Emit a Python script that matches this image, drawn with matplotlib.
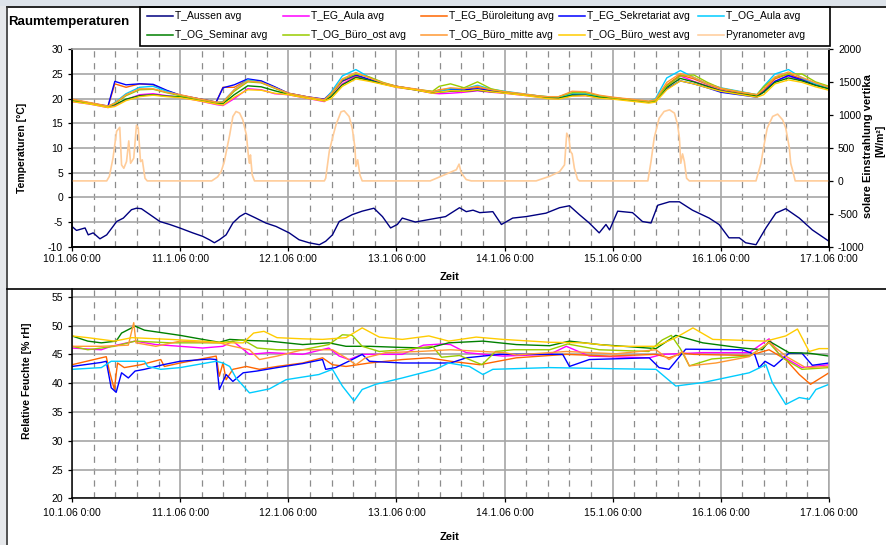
import matplotlib.pyplot as plt
from matplotlib.lines import Line2D
from matplotlib.patches import Rectangle

plt.rcParams['font.family'] = ['Liberation Sans', 'DejaVu Sans']
plt.rcParams['axes.unicode_minus'] = False

# --- data (hours since 10.1.06 0:00) ---
day_hours = [0, 24, 48, 72, 96, 120, 144, 168]
day_labels = ['10.1.06 0:00', '11.1.06 0:00', '12.1.06 0:00', '13.1.06 0:00',
              '14.1.06 0:00', '15.1.06 0:00', '16.1.06 0:00', '17.1.06 0:00']

# outside temperature
t_aussen_h = [0, 1, 2.9, 3.6, 4.7, 6.2, 7.7, 9.1, 9.9, 11.4, 13.2, 14.3, 15.4, 17.3, 19.5, 21.7, 23.9,
              26.8, 29.0, 30.5, 31.6, 32.7, 34.2, 35.7, 37.2, 38.5, 40.8, 43, 45.3, 48.2, 50.4, 52.6,
              54.9, 56.3, 57.8, 59.3, 62.2, 64.4, 67, 68.9, 70.7, 72.2, 73.3, 76.2, 79.2, 82.9, 86,
              87.5, 89, 90.5, 93.4, 95.3, 97.8, 100.8, 105.2, 108.2, 110.4, 112.6, 114.8, 117, 118.5,
              119.3, 121.1, 124.4, 126.6, 128.5, 130, 132.6, 134.8, 137.7, 141.4, 143.6, 145.8, 148.1,
              149.5, 151.8, 154, 156.2, 158.4, 161.4, 164.3, 168]
t_aussen = [-5.9, -6.7, -6.2, -7.6, -7.2, -8.4, -7.6, -5.9, -4.9, -4.2, -2.5, -2.2, -2.3, -3.5, -4.9,
            -5.5, -6.2, -7.2, -7.9, -8.6, -9.2, -8.6, -7.6, -5.2, -3.9, -3.2, -4.2, -5.2, -5.9, -7.2,
            -8.6, -9.2, -9.6, -8.9, -7.6, -4.9, -3.5, -2.8, -2.2, -3.9, -6.2, -5.5, -4.2, -5.0, -4.5,
            -3.9, -2.1, -2.9, -2.6, -3.1, -2.9, -5.5, -4.2, -3.9, -3.2, -2.1, -1.7, -3.5, -5.2, -7.2,
            -5.5, -6.6, -2.8, -3.1, -4.9, -5.2, -1.6, -0.9, -0.9, -2.6, -4.2, -5.5, -8.2, -8.2, -9.2,
            -9.6, -6.2, -3.2, -2.3, -4.2, -6.6, -8.9]

# pyranometer [W/m2]
pyr_h = [0, 7.7, 8.3, 9.1, 9.9, 10.6, 11.0, 11.5, 12.1, 12.6, 13.0, 13.7, 14.3, 14.7, 15.2, 15.6, 16.2, 16.7,
         31.0, 32.3, 33.1, 33.8, 35.0, 35.7, 36.4, 37.2, 37.9, 38.7, 39.2, 39.4, 39.6, 40.0, 40.5,
         56.0, 56.3, 57.1, 57.8, 58.6, 59.7, 60.4, 61.5, 62.2, 62.8, 63.0, 63.4, 63.9, 64.4,
         79.5, 83.1, 85.3, 85.9, 86.4, 87.5, 88.6,
         103.0, 106.0, 108.2, 109.3, 109.8, 110.3, 110.6, 111.0, 111.5, 112.2, 112.6,
         127.8, 128.5, 129.2, 130.3, 131.4, 132.6, 133.7, 134.4, 134.8, 135.1, 135.5, 135.9, 136.4, 137.0,
         151.8, 152.9, 153.6, 154.3, 155.5, 156.6, 157.7, 158.4, 159.2, 159.5, 159.9, 160.5, 168]
pyr = [0, 0, 70, 348, 754, 815, 243, 192, 294, 608, 268, 345, 846, 805, 294, 320, 40, 0,
       0, 60, 140, 294, 700, 979, 1055, 1030, 928, 700, 345, 268, 395, 90, 0,
       0, 40, 450, 650, 856, 1050, 1065, 979, 800, 500, 220, 320, 90, 0,
       0, 105, 170, 255, 120, 20, 0,
       0, 70, 140, 243, 725, 650, 450, 410, 190, 25, 0,
       0, 294, 650, 953, 1055, 1080, 1030, 856, 650, 268, 410, 294, 40, 0,
       0, 268, 550, 805, 980, 1015, 928, 805, 500, 268, 168, 0, 0]

# indoor temperatures, common time grid
t_in_h = [0, 4, 8, 9.5, 12, 15, 18, 21, 24, 28, 32, 33.5, 36, 39, 42, 45,
          48, 52, 56, 57.5, 60, 63, 66, 69, 72, 76, 80, 81.5, 84, 87, 90, 93,
          96, 100, 104, 105.5, 108, 111, 114, 117, 120, 124, 128, 129.5, 132, 135, 138, 141,
          144, 148, 152, 153.5, 156, 159, 162, 165, 168]
t_eg_aula = [19.4, 18.9, 18.2, 18.6, 19.8, 20.8, 21.0, 20.6, 20.3, 19.6, 18.8, 18.6, 20.0, 22.0, 21.8, 21.0,
             20.8, 20.1, 19.4, 20.5, 23.0, 24.5, 23.6, 23.0, 22.3, 21.8, 21.1, 21.0, 21.1, 21.3, 21.6, 21.3,
             21.1, 20.7, 20.3, 20.1, 20.0, 20.6, 20.6, 20.2, 20.0, 19.7, 19.3, 19.5, 22.5, 24.6, 23.5, 22.6,
             21.7, 21.1, 20.4, 21.5, 23.5, 24.6, 23.6, 22.7, 22.1]
t_eg_bueroleitung = [19.8, 19.1, 18.4, 23.0, 22.3, 23.0, 22.8, 21.6, 20.7, 20.0, 19.3, 22.3, 22.3, 23.8, 23.5, 22.3,
                     21.1, 20.4, 19.8, 21.0, 23.5, 24.7, 23.8, 23.1, 22.5, 21.9, 21.4, 21.8, 22.0, 21.9, 22.3, 21.7,
                     21.4, 20.9, 20.5, 20.3, 20.3, 21.1, 21.0, 20.5, 20.2, 19.8, 19.4, 19.7, 22.8, 24.8, 24.0, 22.9,
                     22.0, 21.3, 20.6, 21.8, 24.0, 25.0, 24.0, 23.0, 22.2]
t_eg_sekretariat = [19.8, 19.1, 18.5, 23.5, 22.8, 23.0, 22.9, 21.7, 20.7, 20.0, 19.3, 22.2, 22.8, 24.0, 23.6, 22.4,
                    21.1, 20.4, 19.9, 21.2, 23.6, 24.8, 23.9, 23.1, 22.5, 21.9, 21.3, 21.6, 21.9, 21.8, 22.0, 21.6,
                    21.3, 20.9, 20.4, 20.3, 20.2, 20.8, 20.7, 20.3, 20.0, 19.7, 19.3, 19.5, 22.0, 23.6, 23.0, 22.2,
                    21.3, 20.8, 20.3, 21.4, 23.5, 24.7, 23.8, 22.8, 22.0]
t_og_aula = [19.6, 19.0, 18.3, 19.2, 21.0, 22.3, 22.5, 21.5, 20.6, 19.9, 19.2, 19.4, 21.8, 23.8, 23.3, 22.2,
             21.0, 20.3, 19.7, 21.3, 24.6, 25.9, 24.3, 23.2, 22.4, 21.9, 21.3, 21.5, 22.0, 22.0, 22.7, 21.9,
             21.5, 21.0, 20.5, 20.4, 20.3, 21.0, 21.0, 20.5, 20.2, 19.8, 19.4, 20.0, 24.2, 25.7, 24.3, 23.0,
             22.2, 21.5, 20.8, 22.5, 25.0, 25.9, 24.2, 23.0, 22.2]
t_og_seminar = [19.6, 19.0, 18.4, 18.8, 19.9, 20.6, 20.8, 20.5, 20.4, 19.8, 19.1, 19.0, 20.8, 22.6, 22.4, 21.6,
                20.9, 20.2, 19.6, 20.4, 22.8, 24.3, 23.7, 23.0, 22.4, 21.8, 21.2, 21.3, 21.5, 21.5, 21.7, 21.4,
                21.2, 20.8, 20.4, 20.2, 20.1, 20.7, 20.7, 20.3, 20.1, 19.7, 19.3, 19.5, 22.3, 24.1, 23.4, 22.5,
                21.6, 21.0, 20.5, 21.3, 23.3, 24.2, 23.6, 22.7, 22.0]
t_og_buero_ost = [19.8, 19.1, 18.4, 19.0, 20.6, 21.8, 21.9, 21.2, 20.6, 19.9, 19.2, 19.2, 21.5, 23.4, 23.2, 22.1,
                  21.0, 20.3, 19.7, 20.8, 23.8, 25.0, 24.4, 23.3, 22.5, 21.9, 21.5, 22.5, 23.0, 22.2, 23.4, 22.0,
                  21.4, 20.9, 20.5, 20.4, 20.4, 21.2, 21.2, 20.6, 20.2, 19.8, 19.4, 19.6, 22.6, 24.6, 24.8, 23.3,
                  22.1, 21.4, 20.8, 22.4, 24.3, 25.0, 25.0, 23.4, 22.5]
t_og_buero_mitte = [19.9, 19.2, 18.5, 19.1, 20.8, 22.0, 22.0, 21.3, 20.8, 20.0, 19.3, 19.3, 21.8, 23.6, 23.3, 22.2,
                    21.1, 20.4, 19.8, 21.0, 24.0, 25.3, 24.2, 23.2, 22.5, 22.0, 21.4, 21.7, 22.2, 22.0, 22.5, 21.8,
                    21.4, 21.0, 20.5, 20.4, 20.4, 21.5, 21.4, 20.7, 20.3, 19.9, 19.5, 19.8, 23.3, 25.1, 24.3, 23.0,
                    22.1, 21.4, 20.8, 21.9, 24.4, 25.4, 24.3, 23.2, 22.3]
t_og_buero_west = [19.4, 18.9, 18.2, 18.4, 19.6, 20.4, 20.7, 20.4, 20.2, 19.6, 18.9, 18.7, 20.3, 21.8, 21.7, 21.1,
                   20.8, 20.1, 19.5, 20.0, 22.5, 24.0, 23.5, 22.9, 22.3, 21.8, 21.1, 21.3, 21.6, 21.5, 21.8, 21.4,
                   21.1, 20.7, 20.2, 20.0, 19.9, 20.5, 20.6, 20.1, 19.9, 19.5, 19.1, 19.3, 21.8, 23.6, 23.0, 22.2,
                   21.5, 20.9, 20.3, 20.8, 23.0, 23.8, 23.3, 22.4, 21.7]

# relative humidity [% rH]
rh_eg_aula_h = [0, 6.5, 8.7, 14, 18.6, 24, 29, 33.5, 35.7, 39.4, 43.8, 51.2, 57, 59.3, 61.5, 64.4,
                73.3, 78, 82, 84, 87.5, 95.6, 106, 109.7, 114.8, 128.1, 131, 140, 150.3, 154.7, 156.9, 162, 168]
rh_eg_aula = [46.1, 45.8, 46.4, 47.3, 46.7, 46.4, 46.1, 46.4, 47.3, 45.0, 45.3, 45.0, 46.1, 44.7, 44.1, 45.0,
              45.0, 46.6, 46.8, 46.7, 45.3, 44.7, 45.0, 46.4, 44.7, 44.4, 45.0, 45.3, 45.3, 47.7, 45.0, 42.7, 43.2]
rh_eg_bueroleitung_h = [0, 6.5, 7.6, 8.3, 9.4, 10.1, 11.6, 15.3, 19.7, 20.5, 24, 32, 32.7, 33.5, 34.2, 35.7,
                        38.7, 41.6, 45.5, 51.2, 55.6, 57.8, 60.8, 66, 73.3, 79.2, 84, 90.5, 98.6, 109.7, 119.3,
                        129.6, 132.5, 135.5, 138, 150.3, 154.7, 158.4, 161.4, 163.9, 168]
rh_eg_bueroleitung = [43.2, 44.4, 44.6, 42.1, 38.9, 43.5, 42.7, 43.2, 44.1, 42.9, 43.5, 44.7, 41.2, 43.5, 40.6,
                      42.4, 42.9, 42.4, 42.9, 43.5, 44.4, 43.2, 42.9, 43.5, 44.1, 44.4, 43.8, 43.2, 44.4, 45.0,
                      44.7, 45.0, 44.4, 45.2, 45.0, 44.8, 45.8, 44.1, 41.5, 39.8, 41.8]
rh_eg_sekretariat_h = [0, 6.5, 7.6, 8.7, 9.8, 11, 12.5, 14, 16.1, 20.2, 24, 30.6, 32, 32.7, 34.2, 35.7, 38, 41,
                       45.5, 51.2, 55.6, 56.3, 58.5, 62.2, 64.4, 66, 73.3, 80.7, 84, 87.5, 94.9, 108.9, 110.4,
                       114.8, 128.1, 130.3, 132.5, 136.2, 148.8, 151.5, 152.5, 153.8, 155.8, 159.1, 162, 164.3, 168]
rh_eg_sekretariat = [42.9, 43.6, 43.8, 39.2, 38.4, 41.8, 40.9, 42.1, 42.4, 43.2, 43.8, 44.2, 44.1, 38.9, 41.5,
                     40.3, 41.8, 42.1, 42.7, 43.4, 44.1, 42.4, 42.7, 44.1, 45.0, 43.8, 43.5, 43.5, 43.5, 44.4,
                     45.0, 45.0, 42.9, 44.1, 44.4, 42.7, 42.4, 45.9, 45.8, 45.0, 42.7, 43.8, 42.9, 45.2, 45.2,
                     43.1, 43.5]
rh_og_aula_h = [0, 6.5, 8.7, 14, 16.1, 16.8, 19.7, 24, 32, 33.5, 35, 36.4, 39.4, 43.8, 47.5, 54.8, 57.8, 60,
                62.6, 64.4, 67.4, 73.3, 80.7, 83.6, 88.2, 91.2, 93.4, 106, 120.7, 129.6, 134, 140, 150.3,
                154, 155.4, 158.4, 161.4, 163.6, 165.1, 168]
rh_og_aula = [42.4, 42.7, 43.8, 43.8, 43.8, 42.9, 42.4, 42.7, 43.8, 43.5, 42.9, 40.9, 38.3, 39.0, 40.6, 41.5,
              42.4, 39.5, 36.9, 38.9, 39.8, 40.9, 42.4, 43.5, 42.9, 41.5, 42.4, 42.7, 42.5, 42.4, 39.5, 40.1,
              41.8, 43.2, 40.1, 36.3, 37.5, 37.2, 38.9, 39.8]
rh_og_seminar_h = [0, 3.5, 6.5, 9.8, 11, 14, 16.1, 20.5, 24, 29, 32.7, 35, 39.4, 43.8, 51.2, 57, 60.8, 66,
                   73.3, 79.2, 83.6, 91.2, 98.6, 106, 110.4, 117, 129.6, 134, 140, 148.8, 153.2, 154.7,
                   159.1, 163.6, 168]
rh_og_seminar = [48.2, 47.3, 47.0, 47.3, 48.7, 49.9, 49.2, 48.7, 48.3, 47.6, 47.1, 47.6, 47.4, 47.3, 46.7,
                 47.0, 46.4, 46.4, 46.2, 46.1, 47.0, 47.3, 46.7, 46.5, 47.3, 46.7, 46.0, 48.3, 47.0, 46.1,
                 45.8, 47.3, 45.3, 45.2, 44.7]
rh_og_buero_ost_h = [0, 3.5, 9.4, 14, 21.8, 32.7, 38, 41.1, 45.5, 51.2, 57, 60, 62.2, 64.4, 68.2, 73.3, 80,
                     82, 86, 91, 94, 98, 106, 110, 117, 128, 131, 133, 135, 137, 142, 150.3, 154.7, 157.7,
                     162, 168]
rh_og_buero_ost = [46.4, 45.8, 46.4, 47.3, 47.0, 47.0, 47.5, 46.1, 45.8, 45.8, 46.7, 48.4, 48.3, 46.4, 45.5,
                   45.8, 46.4, 44.5, 44.8, 43.2, 45.5, 45.8, 45.8, 46.8, 45.8, 45.5, 47.5, 48.3, 46.0, 43.0,
                   44.2, 44.7, 47.0, 44.4, 42.4, 42.7]
rh_og_buero_mitte_h = [0, 6.5, 12.5, 13.7, 14.2, 18.6, 24, 32.7, 35.7, 39.4, 41.6, 45.5, 51.2, 57.8, 60.8, 63,
                       65.1, 69.6, 77, 84, 96, 98.6, 109.7, 120.7, 129.6, 132.5, 135.5, 137, 142.9, 150.3,
                       154.7, 158.4, 162.8, 168]
rh_og_buero_mitte = [46.4, 46.4, 46.6, 50.5, 47.0, 46.4, 47.3, 47.0, 46.4, 45.8, 44.1, 44.7, 45.8, 45.8, 44.4,
                     43.2, 44.4, 45.3, 45.5, 45.8, 45.3, 44.9, 45.5, 45.1, 45.8, 44.1, 45.5, 43.0, 43.5, 44.6,
                     47.1, 44.7, 42.7, 42.9]
rh_og_buero_west_h = [0, 3.5, 9.4, 13.3, 21.8, 29, 34.2, 38, 40.3, 42.6, 45.5, 51.2, 55.6, 60.8, 64.4, 68.2,
                      73.3, 79.2, 83.6, 89.7, 95.6, 106, 113.4, 120.7, 129.6, 134, 137.8, 142.2, 150.3, 154,
                      158.4, 161, 163.6, 165.8, 168]
rh_og_buero_west = [48.2, 47.9, 47.3, 47.9, 47.6, 47.3, 47.0, 47.0, 48.7, 49.0, 47.9, 47.7, 47.6, 47.9, 49.6,
                    48.0, 47.6, 48.2, 47.3, 48.0, 47.6, 47.1, 47.0, 46.4, 46.4, 47.9, 49.6, 47.6, 47.4, 47.3,
                    48.2, 49.4, 45.5, 46.0, 46.0]

c_aussen = '#000080'
c_eg_aula = '#ff00ff'
c_eg_bl = '#ff6600'
c_eg_sek = '#0000ff'
c_og_aula = '#00ccff'
c_og_sem = '#008000'
c_og_ost = '#99cc00'
c_og_mitte = '#ff9933'
c_og_west = '#ffcc00'
c_pyr = '#ffcc99'

W, H = 886, 545
fig = plt.figure(figsize=(W / 100, H / 100), dpi=100)


def fx(x):
    return x / W


def fy(y):
    return 1 - y / H


def style_axes(ax):
    ax.set_xlim(0, 168)
    ax.set_xticks(day_hours)
    ax.set_xticklabels(day_labels)
    ax.set_xticks([d * 24 + k * 4.8 for d in range(7) for k in range(1, 5)], minor=True)
    ax.grid(axis='x', which='major', color='#a6a6a6', lw=1.2)
    ax.grid(axis='x', which='minor', color='#8c8c8c', lw=0.9, ls=(0, (5, 4.5)))
    ax.grid(axis='y', which='major', color='#a6a6a6', lw=1.2)
    ax.tick_params(which='minor', length=0)
    ax.tick_params(which='major', direction='out', length=3, width=0.9, labelsize=7.5)
    ax.set_axisbelow(True)
    for s in ax.spines.values():
        s.set_linewidth(1.1)


# --- top panel: temperatures ---
ax1 = fig.add_axes([fx(72), fy(246.7), fx(829) - fx(72), fy(49.3) - fy(246.7)])
style_axes(ax1)
ax1.set_ylim(-10, 30)
ax1.set_yticks(range(-10, 31, 5))
ax1.tick_params(axis='x', pad=2.5)
ax1.spines['top'].set_color('#a6a6a6')

temp_series = [
    (t_eg_aula, c_eg_aula), (t_eg_bueroleitung, c_eg_bl), (t_eg_sekretariat, c_eg_sek),
    (t_og_aula, c_og_aula), (t_og_seminar, c_og_sem), (t_og_buero_ost, c_og_ost),
    (t_og_buero_mitte, c_og_mitte), (t_og_buero_west, c_og_west),
]
ax1.plot(t_aussen_h, t_aussen, color=c_aussen, lw=1.0)
for vals, col in temp_series:
    ax1.plot(t_in_h, vals, color=col, lw=1.0)

ax1r = ax1.twinx()
ax1r.set_ylim(-1000, 2000)
ax1r.set_yticks(range(-1000, 2001, 500))
ax1r.tick_params(direction='out', length=3, width=0.9, labelsize=7.5)
ax1r.plot(pyr_h, pyr, color=c_pyr, lw=1.2)
for s in ax1r.spines.values():
    s.set_linewidth(1.1)
ax1r.spines['top'].set_color('#a6a6a6')

ax1.set_ylabel('Temperaturen [°C]', fontsize=7.5, fontweight='bold')
ax1.yaxis.set_label_coords((27 - 72) / 757, 0.5)
fig.text(fx(450), fy(277), 'Zeit', ha='center', va='center', fontsize=8, fontweight='bold')
fig.text(fx(868), fy(146), 'solare Einstrahlung vertika', rotation=90, ha='center', va='center',
         fontsize=8, fontweight='bold')
fig.text(fx(880), fy(141), '[W/m²]', rotation=90, ha='center', va='center', fontsize=7.5, fontweight='bold')

# --- bottom panel: humidity ---
ax2 = fig.add_axes([fx(72), fy(498.3), fx(829) - fx(72), fy(289.3) - fy(498.3)])
style_axes(ax2)
ax2.set_ylim(20, 56.3)
ax2.set_yticks(range(20, 56, 5))
ax2.tick_params(axis='x', pad=4)
ax2.spines['right'].set_color('#a6a6a6')
ax2.spines['top'].set_visible(False)

rh_series = [
    (rh_eg_aula_h, rh_eg_aula, c_eg_aula), (rh_eg_bueroleitung_h, rh_eg_bueroleitung, c_eg_bl),
    (rh_eg_sekretariat_h, rh_eg_sekretariat, c_eg_sek), (rh_og_aula_h, rh_og_aula, c_og_aula),
    (rh_og_seminar_h, rh_og_seminar, c_og_sem), (rh_og_buero_ost_h, rh_og_buero_ost, c_og_ost),
    (rh_og_buero_mitte_h, rh_og_buero_mitte, c_og_mitte), (rh_og_buero_west_h, rh_og_buero_west, c_og_west),
]
for hh, vals, col in rh_series:
    ax2.plot(hh, vals, color=col, lw=1.0)

fig.text(fx(27), fy(381), 'Relative Feuchte [% rH]', rotation=90, ha='center', va='center',
         fontsize=7.5, fontweight='bold')
fig.text(fx(450), fy(537), 'Zeit', ha='center', va='center', fontsize=8, fontweight='bold')

# --- chart frame, title and legend ---
fig.add_artist(Rectangle((0, 0), fx(6), 1, transform=fig.transFigure, color='#e6e8eb', lw=0))
fig.add_artist(Rectangle((0, fy(6)), 1, 1 - fy(6), transform=fig.transFigure, color='#dde3ea', lw=0))
fig.add_artist(Line2D([fx(7), 1], [fy(7), fy(7)], color='black', lw=1.2))
fig.add_artist(Line2D([fx(7), fx(7)], [0, fy(7)], color='#333333', lw=1.2))
fig.add_artist(Line2D([fx(7), 1], [fy(288.7), fy(288.7)], color='black', lw=1.2))

fig.text(fx(8), fy(22.5), 'Raumtemperaturen', ha='left', va='center', fontsize=9.5, fontweight='bold')

fig.add_artist(Rectangle((fx(140), fy(45.5)), fx(830) - fx(140), fy(7) - fy(45.5),
                         transform=fig.transFigure, fill=False, ec='black', lw=1.2))
legend_entries = [
    ('T_Aussen avg', c_aussen), ('T_EG_Aula avg', c_eg_aula), ('T_EG_Büroleitung avg', c_eg_bl),
    ('T_EG_Sekretariat avg', c_eg_sek), ('T_OG_Aula avg', c_og_aula),
    ('T_OG_Seminar avg', c_og_sem), ('T_OG_Büro_ost avg', c_og_ost), ('T_OG_Büro_mitte avg', c_og_mitte),
    ('T_OG_Büro_west avg', c_og_west), ('Pyranometer avg', c_pyr),
]
col_x = [147, 283, 421, 559, 698]
row_y = [16, 35]
for i, (lab, col) in enumerate(legend_entries):
    x0 = col_x[i % 5]
    y0 = row_y[i // 5]
    fig.add_artist(Line2D([fx(x0), fx(x0 + 26)], [fy(y0), fy(y0)], color=col, lw=1.1))
    fig.text(fx(x0 + 28), fy(y0), lab, ha='left', va='center', fontsize=7.5)

fig.savefig('out.png', dpi=100)
